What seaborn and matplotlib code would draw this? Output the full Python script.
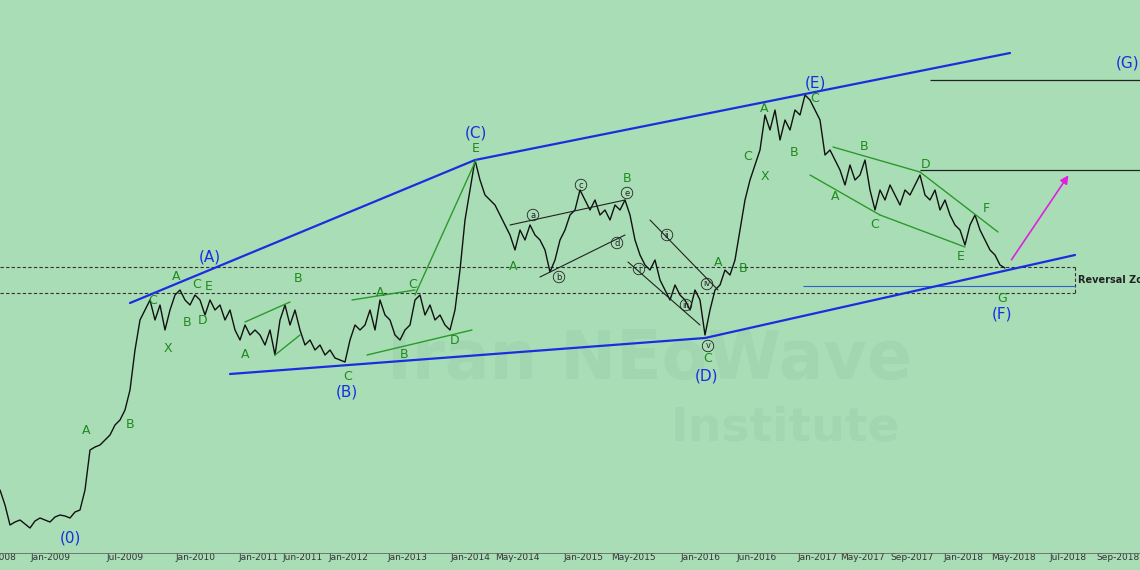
import matplotlib
matplotlib.use("Agg")
import matplotlib.pyplot as plt
import seaborn as sns
import pandas as pd

sns.set_theme(style="white")
plt.rcParams['font.family'] = ['DejaVu Sans']

# price path (x index, chart level measured downward like the screenshot)
px = list(range(0, 1010, 5))
py = [490,505,525,522,520,524,528,521,518,520,522,517,515,516,518,512,510,490,450,447,
      445,440,435,425,420,410,390,350,320,310,300,320,305,330,310,295,290,300,305,295,
      300,315,300,310,305,320,310,330,340,325,335,330,335,345,330,355,320,305,325,310,
      330,345,340,350,345,355,350,358,360,362,340,325,330,325,310,330,300,315,320,335,
      340,330,325,300,295,315,305,320,315,325,330,310,270,220,190,160,180,195,200,205,
      215,225,235,250,230,240,225,235,240,250,272,260,240,230,215,210,190,200,210,200,
      215,210,220,205,210,200,215,240,255,265,270,260,280,290,300,285,295,300,310,290,
      300,335,310,290,285,270,275,260,230,200,180,165,150,115,130,110,140,120,130,110,
      115,95,100,110,120,155,150,160,170,185,165,180,175,160,190,210,190,200,185,195,
      205,190,195,185,175,195,200,190,210,200,215,225,230,245,225,215,230,240,250,255,
      265,268]
px = px[:len(py)]

tick_pos = [5, 50, 125, 195, 258, 303, 348, 407, 470, 517, 583, 633, 700, 757, 817, 862, 912, 963, 1013, 1068, 1118]
tick_lab = ["2008", "Jan-2009", "Jul-2009", "Jan-2010", "Jan-2011", "Jun-2011", "Jan-2012", "Jan-2013",
            "Jan-2014", "May-2014", "Jan-2015", "May-2015", "Jan-2016", "Jun-2016", "Jan-2017",
            "May-2017", "Sep-2017", "Jan-2018", "May-2018", "Jul-2018", "Sep-2018"]

blue_upper_x = [130, 475, 1010]; blue_upper_y = [303, 160, 53]
blue_lower_x = [230, 705, 1075]; blue_lower_y = [374, 338, 255]

blue_labels = [("(0)", 70, 538), ("(A)", 210, 257), ("(B)", 347, 392), ("(C)", 476, 133),
               ("(D)", 707, 376), ("(E)", 815, 83), ("(F)", 1002, 314), ("(G)", 1128, 63)]
green_labels = [("A", 86, 430), ("B", 130, 425), ("C", 153, 300), ("X", 168, 348), ("A", 176, 277),
                ("B", 187, 323), ("C", 197, 285), ("E", 209, 286), ("D", 203, 321), ("A", 245, 354),
                ("B", 298, 278), ("C", 348, 376), ("A", 380, 293), ("C", 413, 285), ("B", 404, 354),
                ("D", 455, 341), ("E", 476, 149), ("A", 513, 266), ("B", 627, 179), ("A", 718, 262),
                ("B", 743, 268), ("C", 748, 157), ("X", 765, 177), ("A", 764, 108), ("B", 794, 153),
                ("C", 815, 99), ("A", 835, 197), ("B", 864, 146), ("C", 875, 225), ("D", 926, 164),
                ("E", 961, 256), ("F", 986, 208), ("G", 1002, 298), ("C", 708, 358)]
roman = [("a", 533, 215), ("b", 559, 277), ("c", 581, 185), ("e", 627, 193), ("d", 617, 243),
         ("i", 639, 269), ("ii", 667, 235), ("iii", 686, 305), ("iv", 707, 284), ("v", 708, 346)]

df = pd.DataFrame({"x": px, "y": py})

fig = plt.figure(figsize=(11.4, 5.7), dpi=100)
fig.patch.set_facecolor("#a9ddb6")
ax = fig.add_axes([0, 0, 1, 1])
ax.set_facecolor("#a9ddb6")
ax.set_xlim(0, 1140)
ax.set_ylim(570, 0)

ax.text(650, 360, "Iran NEoWave", fontsize=48, fontweight="bold", color="#a2d6b0", ha="center", va="center", zorder=0)
ax.text(785, 428, "Institute", fontsize=34, fontweight="bold", color="#a2d6b0", ha="center", va="center", zorder=0)

# reversal zone
ax.hlines([267, 293], 0, 1075, colors="#333333", linestyles=(0, (3, 2)), linewidth=0.8)
ax.vlines(1075, 267, 293, colors="#333333", linestyles=(0, (3, 2)), linewidth=0.8)
ax.text(1078, 280, "Reversal Zone", fontsize=7, fontweight="bold", va="center", color="#222222")
ax.hlines(286, 803, 1075, colors="#3060d0", linewidth=0.8)
ax.hlines(80, 930, 1140, colors="#222222", linewidth=0.9)
ax.hlines(170, 920, 1140, colors="#222222", linewidth=0.9)

sns.lineplot(data=df, x="x", y="y", ax=ax, color="#111111", linewidth=1.0, sort=False, estimator=None)

ax.plot(blue_upper_x, blue_upper_y, color="#1a2ee0", linewidth=1.6)
ax.plot(blue_lower_x, blue_lower_y, color="#1a2ee0", linewidth=1.6)

# green structures
g = "#2a9a2a"
for seg in [((245, 322), (290, 302)), ((275, 355), (300, 335)), ((352, 300), (415, 290)),
            ((367, 355), (472, 330)), ((415, 295), (476, 160)), ((833, 147), (920, 172)),
            ((810, 175), (880, 215)), ((880, 215), (965, 247)), ((920, 172), (998, 232))]:
    ax.plot([seg[0][0], seg[1][0]], [seg[0][1], seg[1][1]], color=g, linewidth=1.0)
for seg in [((510, 225), (625, 200)), ((540, 277), (625, 235)), ((628, 262), (700, 325)), ((650, 220), (718, 290))]:
    ax.plot([seg[0][0], seg[1][0]], [seg[0][1], seg[1][1]], color="#222222", linewidth=0.8)

ax.annotate("", xy=(1070, 173), xytext=(1010, 262),
            arrowprops=dict(arrowstyle="-|>", color="#e020e0", lw=1.2))

for t, x, y in blue_labels:
    ax.text(x, y, t, color="#1a2ee0", fontsize=11, ha="center", va="center")
for t, x, y in green_labels:
    ax.text(x, y, t, color="#1e8a1e", fontsize=9, ha="center", va="center")
for t, x, y in roman:
    ax.text(x, y, t, color="#222222", fontsize=6, ha="center", va="center",
            bbox=dict(boxstyle="circle,pad=0.15", fc="none", ec="#222222", lw=0.6))

ax.axhline(553, color="#666666", linewidth=0.6)
ax.set_xticks(tick_pos)
ax.set_xticklabels(tick_lab, fontsize=6.5, color="#333333")
ax.tick_params(axis="x", direction="in", pad=-12, length=0)
ax.set_yticks([])
ax.set_xlabel(""); ax.set_ylabel("")
for s in ax.spines.values():
    s.set_visible(False)

fig.savefig("out.png", dpi=100, facecolor=fig.get_facecolor())
